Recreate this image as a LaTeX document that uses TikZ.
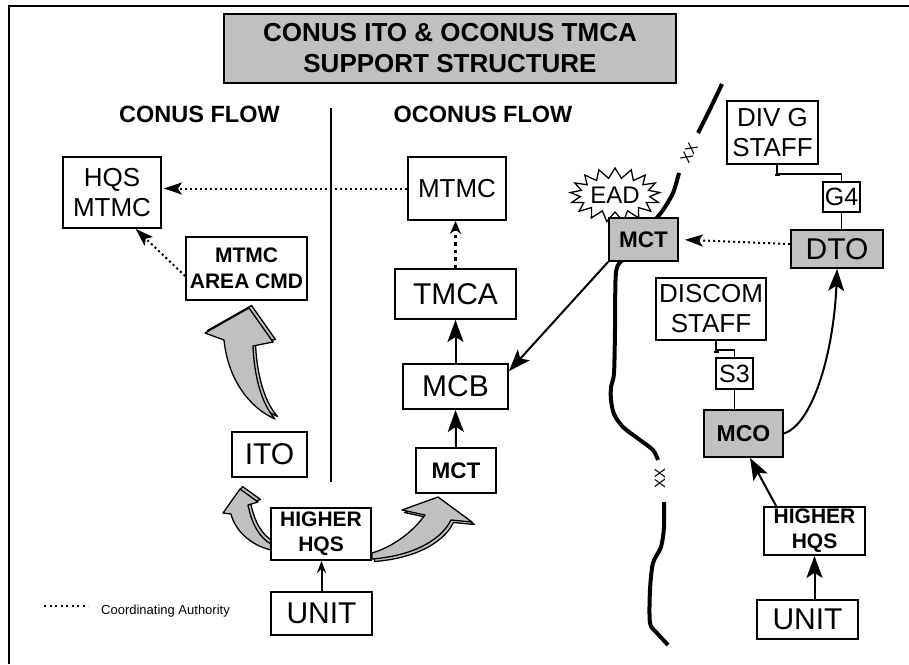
\documentclass[tikz,border=0pt]{standalone}
\usepackage{fontspec}
\setmainfont{Liberation Sans}
\usepackage{tikz}
\usetikzlibrary{arrows.meta, positioning, shapes.symbols, calc}
\definecolor{boxgray}{RGB}{192,192,192}
\tikzset{
  box/.style={draw, line width=1.8pt, fill=white, inner sep=0pt, align=center},
  graybox/.style={box, fill=boxgray},
  bigtxt/.style={font=\fontsize{30}{32}\selectfont},
  midtxt/.style={font=\fontsize{26}{30}\selectfont},
  boldtxt/.style={font=\bfseries\fontsize{21}{25}\selectfont},
  flow/.style={line width=2pt, -{Stealth[length=22pt,width=16pt,inset=5pt]}},
  coord/.style={line width=2pt, dash pattern=on 2pt off 3pt, -{Stealth[length=18pt,width=12pt,inset=4pt]}},
  staffline/.style={line width=1.8pt},
  border/.style={line width=4pt},
  xxlabel/.style={font=\fontsize{15}{15}\selectfont, inner sep=0pt},
  bigarrow/.style={draw, fill=boxgray, line width=1.3pt, line join=round}
}

\begin{document}
\begin{tikzpicture}[x=1pt, y=-1pt]
        \useasboundingbox (0,0) rectangle (909,664);
        \draw[line width=2pt] (9,664) -- (9,6) -- (909,6);
        \node[graybox, font=\bfseries\fontsize{26}{31}\selectfont, minimum width=452pt, minimum height=69pt] (title) at (450,48.5) {CONUS ITO \& OCONUS TMCA\\SUPPORT STRUCTURE};
        \node[font=\bfseries\fontsize{23.5}{26}\selectfont] (conus) at (199.5,114.5) {CONUS FLOW};
        \node[font=\bfseries\fontsize{23.5}{26}\selectfont] (oconus) at (483,114.5) {OCONUS FLOW};
        \draw[line width=1.8pt] (331,108) -- (331,482);
        \draw[border] plot[smooth] coordinates {(722,84) (711,107) (698,133)};
        \draw[border] plot[smooth] coordinates {(679,173) (673,193) (663,210) (655,220)};
        \draw[border] plot[smooth] coordinates {(623,260) (616,272) (615,330) (614,373) (611,387) (611,400) (614,414) (623,427) (640,440) (653,450) (658,460)};
        \draw[border] plot[smooth] coordinates {(664,502) (664,527) (661,547) (653,563) (650,590) (650,623) (657,633) (668,645)};
        \node[xxlabel, rotate=62] (xxtop) at (689,153) {XX};
        \node[xxlabel, rotate=90] (xxlow) at (660,478) {XX};
        \foreach \s in {1,0} {
          \draw[bigarrow, shift={(2.5*\s,-2.5*\s)}] (275,419) .. controls (250,408) and (228,380) .. (224,340) -- (205,333) -- (249,308) -- (273,342) -- (253,346) .. controls (254,372) and (260,402) .. (275,419) -- cycle;
          \draw[bigarrow, shift={(2.5*\s,-2.5*\s)}] (271,550) .. controls (250,545) and (235,530) .. (231,514) -- (223,513) -- (240,489) -- (258,502) -- (248,505) .. controls (252,525) and (260,538) .. (271,544) -- cycle;
          \draw[bigarrow, shift={(2.5*\s,2.5*\s)}] (372,559) .. controls (410,556) and (440,542) .. (451,520) -- (472,522) -- (438,497) -- (402,510) -- (425,515) .. controls (412,533) and (392,547) .. (372,553) -- cycle;
        }
        \node[box, midtxt, minimum width=98pt, minimum height=71pt] (hqs) at (112,192.5) {HQS\\MTMC};
        \node[box, font=\bfseries\fontsize{21}{26}\selectfont, minimum width=121pt, minimum height=63pt] (area) at (246.5,268.5) {MTMC\\AREA CMD};
        \node[box, bigtxt, minimum width=75pt, minimum height=45pt] (ito) at (269.5,454.5) {ITO};
        \node[box, boldtxt, minimum width=100pt, minimum height=52pt] (hhqsL) at (321,534) {HIGHER\\HQS};
        \node[box, bigtxt, minimum width=101pt, minimum height=43pt] (unitL) at (321.5,613.5) {UNIT};
        \node[box, midtxt, minimum width=98pt, minimum height=63pt] (mtmc) at (457,188.5) {MTMC};
        \node[box, bigtxt, minimum width=121pt, minimum height=50pt] (tmca) at (455.5,294) {TMCA};
        \node[box, bigtxt, minimum width=105pt, minimum height=45pt] (mcb) at (455.5,386.5) {MCB};
        \node[box, font=\bfseries\fontsize{22.5}{25}\selectfont, minimum width=80pt, minimum height=45pt] (mctL) at (456,470.5) {MCT};
        \node[starburst, starburst points=17, starburst point height=10pt, random starburst=0, draw, line width=1.3pt, fill=white, inner sep=0pt, minimum width=62pt, minimum height=54pt, font=\fontsize{24}{24}\selectfont] (ead) at (615,195) {EAD};
        \node[graybox, font=\bfseries\fontsize{22.5}{25}\selectfont, minimum width=69pt, minimum height=43pt] (mctG) at (643.5,239.5) {MCT};
        \node[box, midtxt, minimum width=91pt, minimum height=63pt] (divg) at (772.5,132.5) {DIV G\\STAFF};
        \node[box, font=\fontsize{25}{25}\selectfont, minimum width=37pt, minimum height=30pt] (g4) at (841.5,197) {G4};
        \node[graybox, bigtxt, minimum width=92pt, minimum height=38pt] (dto) at (837,249) {DTO};
        \node[box, midtxt, minimum width=110pt, minimum height=62pt] (discom) at (711,309) {DISCOM\\STAFF};
        \node[box, font=\fontsize{25}{25}\selectfont, minimum width=37pt, minimum height=31pt] (s3) at (734.5,373.5) {S3};
        \node[graybox, font=\bfseries\fontsize{23}{25}\selectfont, minimum width=79pt, minimum height=47pt] (mco) at (743.5,433.5) {MCO};
        \node[box, boldtxt, minimum width=101pt, minimum height=48pt] (hhqsR) at (814.5,531) {HIGHER\\HQS};
        \node[box, bigtxt, minimum width=101pt, minimum height=39pt] (unitR) at (807.5,619.5) {UNIT};
        \coordinate (legA) at (44,606);
        \coordinate (legB) at (88,606);
        \draw[line width=2pt, dash pattern=on 2pt off 3.5pt] (legA) -- (legB);
        \node[anchor=base west, inner sep=0pt, font=\fontsize{13}{15}\selectfont] (legend) at (101,614) {Coordinating Authority};
        \draw[coord, shorten >=2pt] (mtmc.west) -- (mtmc.west -| hqs.east);
        \draw[coord] (area.187) -- (hqs.-57);
        \draw[line width=3.5pt, dash pattern=on 3.5pt off 4pt, -{Stealth[length=13pt,width=11pt]}] (tmca.north) -- (tmca.north |- mtmc.south);
        \draw[flow] (mcb.north) -- (tmca.south);
        \draw[flow] (mctL.north) -- (mcb.south);
        \draw[flow] (mctG.south west) -- (mcb.16);
        \draw[coord, shorten >=6pt] (dto.174) -- (mctG.east);
        \draw[line width=2pt, -{Stealth[length=12pt,width=9pt]}] (unitL.north) -- (unitL.north |- hhqsL.south);
        \draw[flow] (hhqsR.south |- unitR.north) -- (hhqsR.south);
        \draw[flow] (hhqsR.147) -- (mco.-75);
        \draw[flow] (mco.east) .. controls +(30,-10) and +(-3,80) .. (dto.south);
        \coordinate (dgs) at ($(divg.south)+(4.5,0)$);
        \draw[staffline, -{Bar[width=5pt]}] (dgs) -- ++(0,11);
        \draw[staffline] ($(dgs)+(0,9)$) -| (g4.north);
        \draw[staffline] (g4.south) -- (g4.south |- dto.north);
        \coordinate (dcs) at ($(discom.south)+(5,0)$);
        \draw[staffline, -{Bar[width=5pt]}] (dcs) -- ++(0,12);
        \draw[staffline] ($(dcs)+(0,9)$) -| (s3.north);
        \draw[staffline] (s3.south) -- (s3.south |- mco.north);
      \end{tikzpicture}
\end{document}
